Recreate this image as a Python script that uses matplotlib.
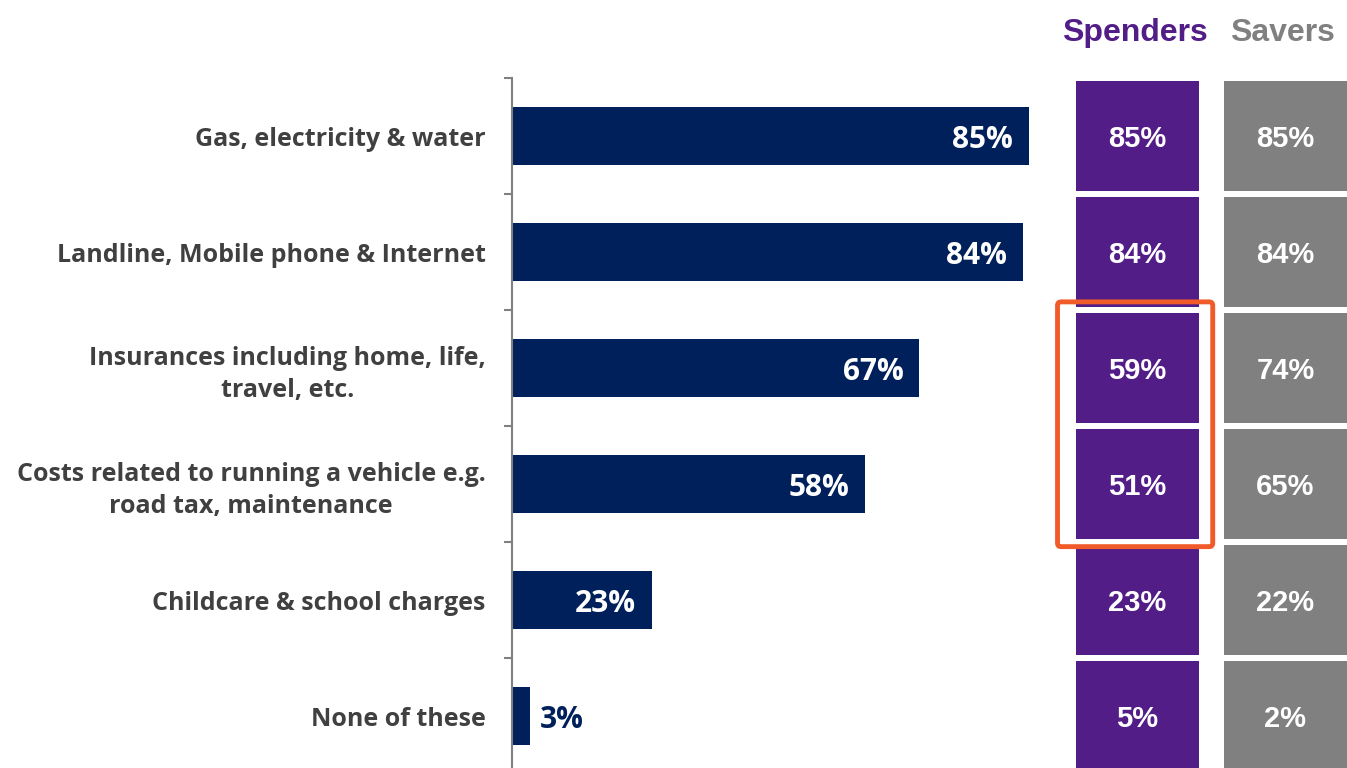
import numpy as np
import matplotlib.pyplot as plt
from matplotlib.patches import FancyBboxPatch

# data
categories = ['Gas, electricity & water',
              'Landline, Mobile phone & Internet',
              'Insurances including home, life,\ntravel, etc.',
              'Costs related to running a vehicle e.g.\nroad tax, maintenance',
              'Childcare & school charges',
              'None of these']
total = [85, 84, 67, 58, 23, 3]
spenders = [85, 84, 59, 51, 23, 5]
savers = [85, 84, 74, 65, 22, 2]
highlight_rows = [2, 3]

NAVY = '#00205B'
PURPLE = '#521D87'
GREY = '#808080'
TXT = '#404040'
ORANGE = '#F15A29'

W, H = 1347, 768
fig = plt.figure(figsize=(W / 100, H / 100), dpi=100, facecolor='white')

# main bar chart
ax = fig.add_axes([512 / W, 1 - 774 / H, 608 / W, 696 / H])
y = np.arange(len(categories))
ax.barh(y, total, height=0.5, color=NAVY)
ax.set_xlim(0, 100)
ax.set_ylim(len(categories) - 0.5, -0.5)

for s in ['top', 'right', 'bottom']:
    ax.spines[s].set_visible(False)
ax.spines['left'].set_color(GREY)
ax.spines['left'].set_linewidth(1.5)
ax.set_xticks([])

# boundary ticks (marks) and centred labels (no marks)
ax.set_yticks(np.arange(-0.5, len(categories), 1.0))
ax.set_yticklabels([])
ax.tick_params(axis='y', which='major', length=6, width=1.5, color=GREY)
ax.set_yticks(y, minor=True)
ax.set_yticklabels(categories, minor=True)
ax.tick_params(axis='y', which='minor', length=0, pad=19)
for t in ax.get_yticklabels(minor=True):
    t.set_fontfamily('Open Sans')
    t.set_fontweight('bold')
    t.set_fontsize(18)
    t.set_color(TXT)
    t.set_multialignment('center')
    t.set_linespacing(1.35)

for yi, v in zip(y, total):
    if v > 10:
        ax.text(v - 2.6, yi, f'{v}%', ha='right', va='center_baseline', color='white',
                fontsize=21.5, fontweight='bold', family='Open Sans')
    else:
        ax.text(v + 1.6, yi, f'{v}%', ha='left', va='center_baseline', color=NAVY,
                fontsize=21.5, fontweight='bold', family='Open Sans')

# Spenders / Savers boxes
ax2 = fig.add_axes([1076 / W, 1 - 774 / H, 271 / W, 696 / H])
ax2.set_xlim(0, 2.2)
ax2.set_ylim(len(categories) - 0.5, -0.5)
ax2.axis('off')
cols = [(0, spenders, PURPLE, 'Spenders'), (1.2, savers, GREY, 'Savers')]
for left, vals, col, name in cols:
    ax2.barh(y, [1] * len(y), left=left, height=0.94, color=col)
    for yi, v in zip(y, vals):
        ax2.text(left + 0.5, yi, f'{v}%', ha='center', va='center_baseline', color='white',
                 fontsize=21, fontweight='bold', family='Liberation Sans')
    ax2.text(left + 0.48, -0.92, name, ha='center', va='center_baseline', color=col,
             fontsize=23, fontweight='bold', family='Liberation Sans', clip_on=False)

# highlight box
r0, r1 = min(highlight_rows), max(highlight_rows)
box = FancyBboxPatch((-0.15, r0 - 0.57), 1.26, r1 - r0 + 1.11,
                     boxstyle='round,pad=0,rounding_size=0.03',
                     fill=False, edgecolor=ORANGE, linewidth=3.5, clip_on=False)
ax2.add_patch(box)

fig.savefig('out.png', dpi=100, facecolor='white')
